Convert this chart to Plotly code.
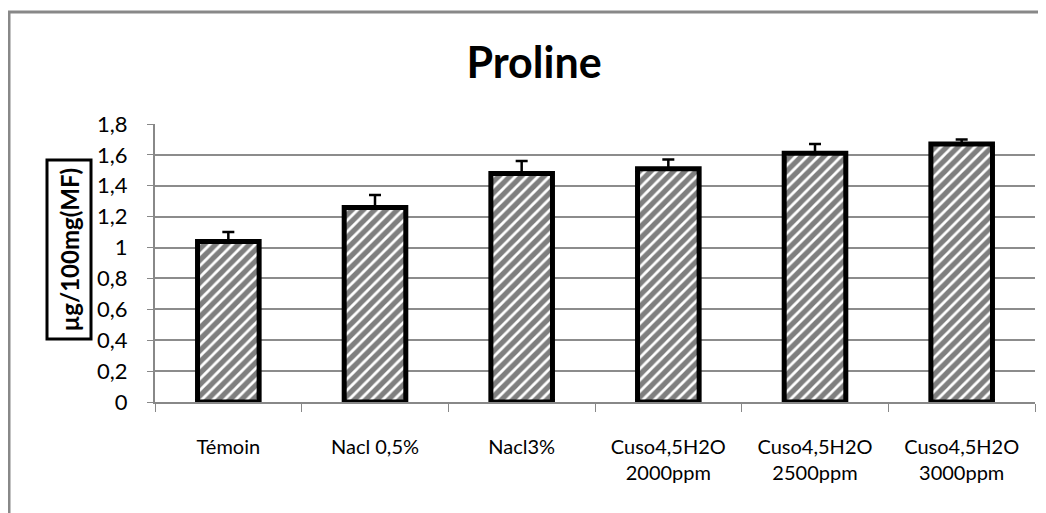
import plotly.graph_objs as go

# Données
categories = ['Témoin', 'Nacl 0,5%', 'Nacl3%',
              'Cuso4,5H2O<br>2000ppm', 'Cuso4,5H2O<br>2500ppm', 'Cuso4,5H2O<br>3000ppm']
proline = [1.04, 1.26, 1.48, 1.51, 1.61, 1.67]
erreurs = [0.06, 0.08, 0.08, 0.06, 0.06, 0.03]
y_ticks = [0, 0.2, 0.4, 0.6, 0.8, 1, 1.2, 1.4, 1.6, 1.8]
y_labels = ['0', '0,2', '0,4', '0,6', '0,8', '1', '1,2', '1,4', '1,6', '1,8']

# la page ajoute une marge de 8 px en haut et à gauche de la figure
OFF = 8
W, H = 1046 - OFF, 513 - OFF
L, R, T, B = 155 - OFF, 11, 124 - OFF, 111
pw, ph = W - L - R, H - T - B


def px_x(x):
    # pixel écran -> coordonnée paper (horizontal)
    return (x - OFF - L) / pw


def px_y(y):
    # pixel écran (depuis le haut) -> coordonnée paper (vertical)
    return (H - B - (y - OFF)) / ph


fig = go.Figure(data=go.Bar(
    x=categories,
    y=proline,
    marker=dict(
        color='white',
        line=dict(color='black', width=5),
        pattern=dict(shape='/', fgcolor='black', bgcolor='white', size=8, solidity=0.65)
    ),
    error_y=dict(type='data', symmetric=False, array=erreurs, arrayminus=[0] * len(erreurs),
                 color='black', thickness=2.5, width=6),
    width=0.42
))

# Cadre gris autour du graphique
fig.add_shape(type='rect', xref='paper', yref='paper',
              x0=px_x(9), x1=px_x(1046 + 20), y0=px_y(513 + 20), y1=px_y(12),
              line=dict(color='#888888', width=3), layer='below')

# Titre de l'axe Y encadré
fig.add_annotation(text='<b>µg/100mg(MF)</b>', textangle=-90,
                   xref='paper', yref='paper',
                   x=px_x(45), y=px_y(250),
                   showarrow=False, font=dict(size=24, color='black'),
                   bordercolor='black', borderwidth=3, borderpad=6, bgcolor='white')

fig.update_layout(
    title=dict(text='<b>Proline</b>', x=(534 - OFF) / W, xanchor='center',
               y=1 - (63 - OFF) / H, yanchor='middle',
               font=dict(size=43, color='black')),
    width=W, height=H,
    margin=dict(l=L, r=R, t=T, b=B, autoexpand=False),
    paper_bgcolor='white', plot_bgcolor='white',
    font=dict(family='Lato, Open Sans, sans-serif', size=20, color='black'),
    showlegend=False,
    xaxis=dict(showline=True, linecolor='#888888', linewidth=2, automargin=False,
               ticks='outside', tickson='boundaries', ticklen=8, tickcolor='#888888',
               ticklabelstandoff=26, tickfont=dict(size=20), showgrid=False),
    yaxis=dict(range=[0, 1.8], tickvals=y_ticks, ticktext=y_labels, automargin=False,
               showline=True, linecolor='#888888', linewidth=2,
               ticks='outside', ticklen=6, tickcolor='#888888', ticklabelstandoff=15,
               showgrid=True, gridcolor='#8c8c8c', gridwidth=2, zeroline=False,
               tickfont=dict(size=22))
)

fig.write_html('out.html')
